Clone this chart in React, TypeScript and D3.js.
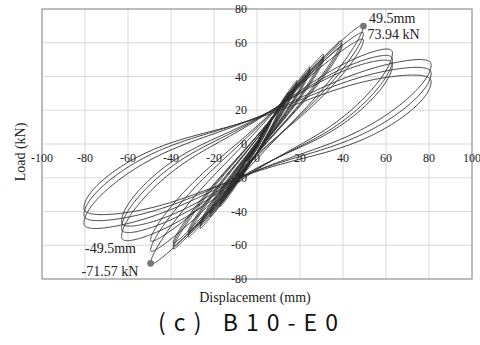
import React from 'react';
import * as d3 from 'd3';

// ---- data ----
const xTicks = [-100, -80, -60, -40, -20, 0, 20, 40, 60, 80, 100];
const yTicks = [-80, -60, -40, -20, 0, 20, 40, 60, 80];

// displacement amplitude of each load level (mm)
const ampPos = [3.5, 7, 10.8, 14.7, 18.6, 24.7, 31, 39.5, 49.5, 63, 81];
const ampNeg = [4.5, 9, 13.3, 17.2, 21.9, 26.5, 32, 39, 49.5, 63, 80.5];
// peak loads of the three cycles of each level (kN)
const peakPos = [
  [9, 8.6, 8.3], [16, 15.4, 14.9], [22.7, 21.9, 21.2], [30.8, 29.8, 28.9],
  [37.5, 36.4, 35.4], [45.6, 44.3, 43.1], [53, 51.5, 50.2], [61, 59.3, 57.8],
  [69.9, 65.5, 61.5], [54, 50, 47], [47, 42, 37],
];
const peakNeg = [
  [-10, -9.6, -9.2], [-19, -18.3, -17.7], [-29, -28, -27], [-37, -35.8, -34.7],
  [-43, -41.7, -40.5], [-50, -48.5, -47.2], [-55, -53.4, -52], [-62, -60.2, -58.6],
  [-70.7, -63, -57], [-55, -50, -46], [-47, -42, -38],
];
// half opening of the loop (kN) of each level
const loopOpen = [1.3, 2, 2.8, 3.5, 4.2, 5, 6, 7.5, 12, 21, 22.5];

const markX = [49.5, -49.5];
const markY = [69.9, -70.7];
const markDisp = ['49.5mm', '-49.5mm'];
const markLoad = ['73.94 kN', '-71.57 kN'];

// ---- layout ----
const W = 480, H = 345;
const left = 42, right = 472, top = 9, bottom = 279;

const xs = d3.scaleLinear().domain([-100, 100]).range([left, right]);
const ys = d3.scaleLinear().domain([-80, 80]).range([bottom, top]);

const SKEW = 0.25;
const PINCH = 0.3;

function cyclePoints(li: number, ci: number): [number, number][] {
  const Dp = ampPos[li], Dn = ampNeg[li];
  const Pp = peakPos[li][ci], Pn = peakNeg[li][ci];
  const a = (Pp + Pn) / 2, b = (Pp - Pn) / 2;
  const c0 = loopOpen[li];
  const N = 420;
  const pts: [number, number][] = [];
  for (let i = 0; i <= N; i++) {
    const t = (i / N) * Math.PI * 2;
    const ct = Math.cos(t), st = Math.sin(t);
    const x = ct >= 0 ? Dp * ct : Dn * ct;
    const c = c0 * (1 - SKEW * ct * Math.sign(st)) * (1 - PINCH * Math.pow(Math.abs(st), 8));
    const y = a + b * ct + c * st;
    pts.push([x, y]);
  }
  return pts;
}

const line = d3.line<[number, number]>().x(d => xs(d[0])).y(d => ys(d[1]));

export default function App() {
  const loops: string[] = [];
  ampPos.forEach((_, li) => {
    peakPos[li].forEach((__, ci) => {
      loops.push((line(cyclePoints(li, ci)) || '') + 'Z');
    });
  });
  const x0 = xs(0), y0 = ys(0);
  const serif = '"Liberation Serif", "Times New Roman", serif';
  return (
    <svg width={W} height={H} style={{ position: 'absolute', left: 0, top: 0, background: '#fff' }}>
      <rect x={0} y={0} width={W} height={H} fill="#fff" />
      {/* grid */}
      {xTicks.map(t => (
        <line key={'gx' + t} x1={xs(t)} x2={xs(t)} y1={top} y2={bottom} stroke="#d9d9d9" strokeWidth={1} />
      ))}
      {yTicks.map(t => (
        <line key={'gy' + t} x1={left} x2={right} y1={ys(t)} y2={ys(t)} stroke="#d9d9d9" strokeWidth={1} />
      ))}
      <rect x={left} y={top} width={right - left} height={bottom - top} fill="none" stroke="#8c8c8c" strokeWidth={1} />
      {/* loops */}
      {loops.map((d, i) => (
        <path key={i} d={d} fill="none" stroke="#2e2e2e" strokeWidth={0.9} />
      ))}
      {/* markers */}
      {markX.map((mx, i) => (
        <circle key={'m' + i} cx={xs(mx)} cy={ys(markY[i])} r={3.4} fill="#767676" />
      ))}
      {/* tick labels */}
      {xTicks.map(t => (
        <text key={'tx' + t} x={xs(t)} y={y0 + 18} textAnchor="middle" fontFamily={serif} fontSize={12} fill="#222">{t}</text>
      ))}
      {yTicks.map(t => (
        <text key={'ty' + t} x={x0 - 10} y={ys(t) + 4.2} textAnchor="end" fontFamily={serif} fontSize={12} fill="#222">{t}</text>
      ))}
      {/* annotations */}
      <text x={369} y={23} fontFamily={serif} fontSize={14} fill="#222">{markDisp[0]}</text>
      <text x={367.5} y={39} fontFamily={serif} fontSize={14} fill="#222">{markLoad[0]}</text>
      <text x={85} y={253} fontFamily={serif} fontSize={14} fill="#222">{markDisp[1]}</text>
      <text x={81.5} y={275.5} fontFamily={serif} fontSize={14} fill="#222">{markLoad[1]}</text>
      {/* axis titles */}
      <text x={255} y={301.5} textAnchor="middle" fontFamily={serif} fontSize={14} fill="#222">Displacement (mm)</text>
      <text transform={`translate(25,${152}) rotate(-90)`} textAnchor="middle" fontFamily={serif} fontSize={14} fill="#222">Load (kN)</text>
      {/* caption */}
      <text x={158} y={331} fontFamily='"Noto Sans CJK KR", "Noto Sans", sans-serif' fontSize={23} fill="#111" textLength={180} lengthAdjust="spacing">(c) B10-E0</text>
    </svg>
  );
}
